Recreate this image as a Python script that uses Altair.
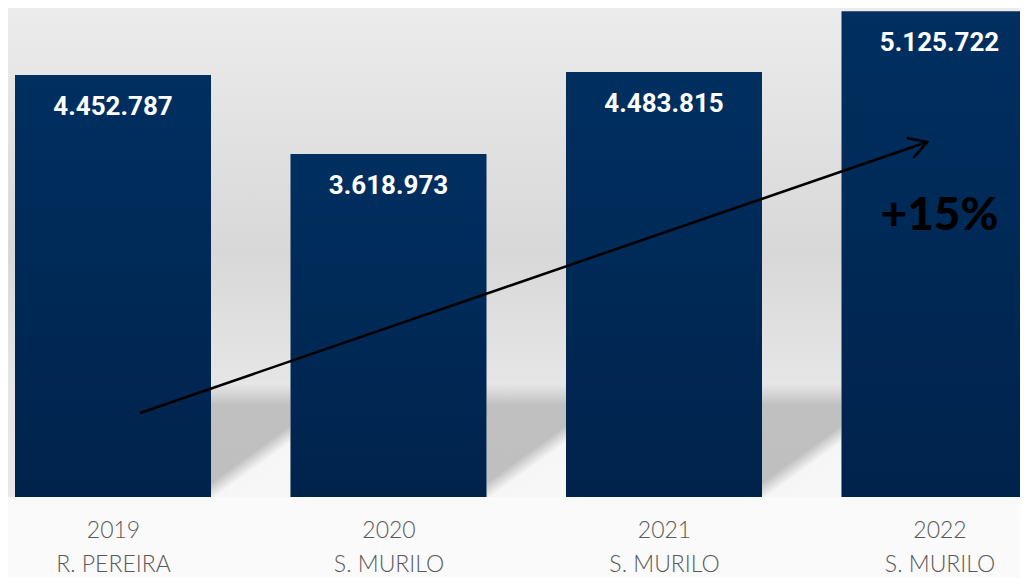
import json
import math
import altair as alt
import pandas as pd

# ---- data ----
years = ["2019", "2020", "2021", "2022"]
names = ["R. PEREIRA", "S. MURILO", "S. MURILO", "S. MURILO"]
values = [4452787, 3618973, 4483815, 5125722]
growth_text = "+15%"
growth_y = 2817000              # baseline of the "+15%" note, in value units
arrow_from = (0.098, 886000)    # (bar index, value)
arrow_to = (2.955, 3746000)

# ---- layout ----
W, H = 1012, 489
STEP = 275.5
FIRST = 105
BAR_W = 196
Y_MAX = 5160000

labels = [f"{v:,}".replace(",", ".") for v in values]
df = pd.DataFrame({
    "pos": list(range(len(years))),
    "year": years,
    "name": names,
    "value": values,
    "label": labels,
})

x_lo = -FIRST / STEP
x_hi = (W - FIRST) / STEP
half = BAR_W / 2 / STEP
xscale = alt.Scale(domain=[x_lo, x_hi], nice=False, zero=False)
yscale = alt.Scale(domain=[0, Y_MAX], nice=False, zero=False)

label_lines = json.dumps([[y, n] for y, n in zip(years, names)])
xaxis = alt.Axis(
    values=list(range(len(years))),
    labelExpr=f"{label_lines}[datum.value]",
    ticks=False, tickSize=0, domain=False, grid=False, title=None,
    labelFont="Lato", labelFontSize=23, labelFontWeight=300,
    labelColor="#595959", labelBaseline="alphabetic",
    labelPadding=40, labelLineHeight=34,
    labelOverlap=False, labelFlush=False, labelBound=False,
)


def grad(stops, x2=0, y2=1):
    return alt.Gradient(
        gradient="linear",
        stops=[alt.GradientStop(color=c, offset=o) for o, c in stops],
        x1=0, y1=0, x2=x2, y2=y2,
    )


bar_grad = grad([(0, "#002f60"), (1, "#00234c")])
bg_grad = grad([(0, "#ececec"), (0.22, "#e3e3e3"), (0.5, "#d8d8d8"),
                (0.75, "#e5e5e5"), (1, "#e8e8e8")])
shadow_a = grad([(0, "#e8e8e8"), (0.08, "#dadada"), (0.2, "#c0c0c0"), (1, "#bfbfbf")])
shadow_b = grad([(0, "rgba(248,248,248,0)"), (0.70, "rgba(248,248,248,0)"),
                 (0.82, "#f6f6f6"), (1, "#f7f7f7")], x2=0.5, y2=1)

base = alt.Chart(df)

bg = alt.Chart(pd.DataFrame({"a": [0]})).mark_rect(color=bg_grad).encode(
    x=alt.value(0), x2=alt.value(W), y=alt.value(0), y2=alt.value(H)
)

gaps = base.transform_filter(f"datum.pos < {len(years) - 1}").transform_calculate(
    g0=f"datum.pos + {half}", g1=f"datum.pos + 1 - {half}"
)
shadowA = gaps.mark_rect(color=shadow_a).encode(
    x=alt.X("g0:Q", scale=xscale, axis=xaxis), x2="g1:Q",
    y=alt.value(H - 115), y2=alt.value(H),
)
shadowB = gaps.mark_rect(color=shadow_b).encode(
    x=alt.X("g0:Q", scale=xscale, axis=xaxis), x2="g1:Q",
    y=alt.value(H - 115), y2=alt.value(H),
)

bars = base.transform_calculate(
    x0=f"datum.pos - {half}", x1=f"datum.pos + {half}"
).mark_rect(color=bar_grad, clip=True).encode(
    x=alt.X("x0:Q", scale=xscale, axis=xaxis), x2="x1:Q",
    y=alt.Y("value:Q", scale=yscale, axis=None), y2=alt.datum(0),
)

value_text = base.mark_text(
    color="white", font="Roboto", fontWeight="bold", fontSize=26,
    baseline="alphabetic", dy=40,
).encode(
    x=alt.X("pos:Q", scale=xscale, axis=xaxis),
    y=alt.Y("value:Q", scale=yscale, axis=None),
    text="label:N",
)

arrow_df = pd.DataFrame({
    "ax": [arrow_from[0]], "ay": [arrow_from[1]],
    "bx": [arrow_to[0]], "by": [arrow_to[1]],
})
dx_px = (arrow_to[0] - arrow_from[0]) * STEP
dy_px = -(arrow_to[1] - arrow_from[1]) * H / Y_MAX
angle = math.degrees(math.atan2(dy_px, dx_px)) % 360

arrow_line = alt.Chart(arrow_df).mark_rule(color="black", strokeWidth=2.5).encode(
    x=alt.X("ax:Q", scale=xscale, axis=xaxis), x2="bx:Q",
    y=alt.Y("ay:Q", scale=yscale, axis=None), y2="by:Q",
)
arrow_head = alt.Chart(arrow_df).mark_point(
    shape="M-1,-0.58L0,0L-1,0.58", filled=False, color="black",
    strokeWidth=2.5, size=1296, angle=angle, opacity=1,
).encode(
    x=alt.X("bx:Q", scale=xscale, axis=xaxis),
    y=alt.Y("by:Q", scale=yscale, axis=None),
)

growth = alt.Chart(pd.DataFrame({
    "gx": [len(years) - 1], "gy": [growth_y], "t": [growth_text]
})).mark_text(
    font="Lato", fontWeight=900, fontSize=46, color="black", baseline="alphabetic",
).encode(
    x=alt.X("gx:Q", scale=xscale, axis=xaxis),
    y=alt.Y("gy:Q", scale=yscale, axis=None),
    text="t:N",
)

chart = alt.layer(
    bg, shadowA, shadowB, bars, value_text, arrow_line, arrow_head, growth
).properties(
    width=W, height=H,
    padding={"left": 0, "top": 0, "right": 0, "bottom": 81},
    autosize=alt.AutoSizeParams(type="none"),
    background="#fafafa",
).configure_view(stroke=None)

chart.save("out.html", embed_options={"renderer": "svg", "actions": False})
